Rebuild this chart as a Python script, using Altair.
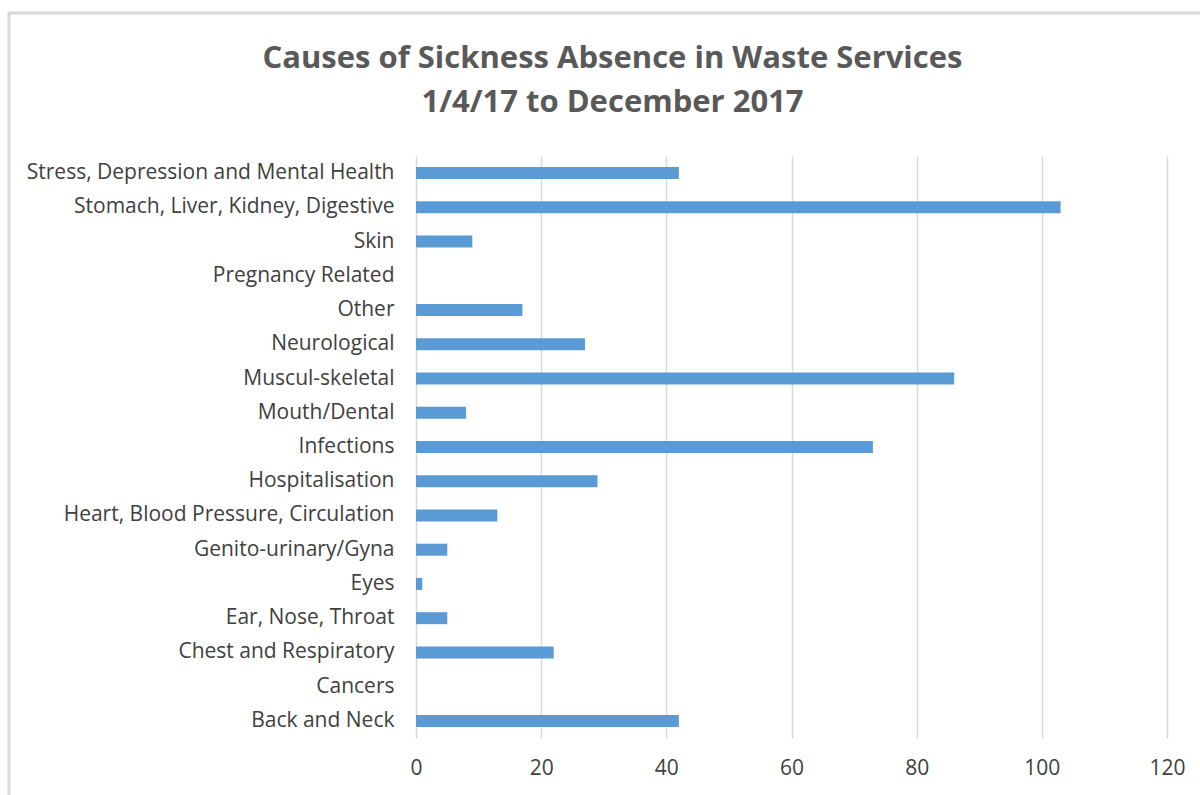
import altair as alt
import pandas as pd

categories = [
    "Stress, Depression and Mental Health",
    "Stomach, Liver, Kidney, Digestive",
    "Skin",
    "Pregnancy Related",
    "Other",
    "Neurological",
    "Muscul-skeletal",
    "Mouth/Dental",
    "Infections",
    "Hospitalisation",
    "Heart, Blood Pressure, Circulation",
    "Genito-urinary/Gyna",
    "Eyes",
    "Ear, Nose, Throat",
    "Chest and Respiratory",
    "Cancers",
    "Back and Neck",
]
values = [42, 103, 9, 0, 17, 27, 86, 8, 73, 29, 13, 5, 1, 5, 22, 0, 42]

df = pd.DataFrame({"cause": categories, "days": values})

FONT = "Open Sans"

bars = alt.Chart(df).mark_bar(color="#5b9bd5", height=12).encode(
    y=alt.Y("cause:N", sort=categories, title=None,
            axis=alt.Axis(labelFontSize=21, labelColor="#404040", labelFont=FONT,
                          ticks=False, domain=False, grid=False,
                          labelPadding=22, labelLimit=500)),
    x=alt.X("days:Q", title=None, scale=alt.Scale(domain=[0, 120], nice=False),
            axis=alt.Axis(values=[0, 20, 40, 60, 80, 100, 120], labelFontSize=21,
                          labelColor="#404040", labelFont=FONT, ticks=False, domain=False,
                          labelFlush=False,
                          grid=True, gridColor="#d9d9d9", gridWidth=1.5, labelPadding=19)),
)

border = alt.Chart(pd.DataFrame({"a": [0]})).mark_rect(
    fill="transparent", stroke="#d9d9d9", strokeWidth=3
).encode(
    x=alt.value(-407), x2=alt.value(900), y=alt.value(-143), y2=alt.value(700)
)

chart = alt.layer(border, bars).properties(
    width=751,
    height=582,
    view=alt.ViewBackground(stroke="transparent", strokeWidth=0),
    autosize=alt.AutoSizeParams(type="none"),
    padding={"left": 416, "top": 156, "right": 33, "bottom": 57},
    title=alt.TitleParams(
        ["Causes of Sickness Absence in Waste Services", "1/4/17 to December 2017"],
        font=FONT, fontSize=31, fontWeight="bold", color="#595959",
        anchor="middle", frame="group", dx=-179, offset=-107, lineHeight=44,
    ),
).configure_view(stroke="transparent", strokeWidth=0).configure(background="white")

chart.save("out.html", embed_options={"renderer": "svg", "actions": False})
